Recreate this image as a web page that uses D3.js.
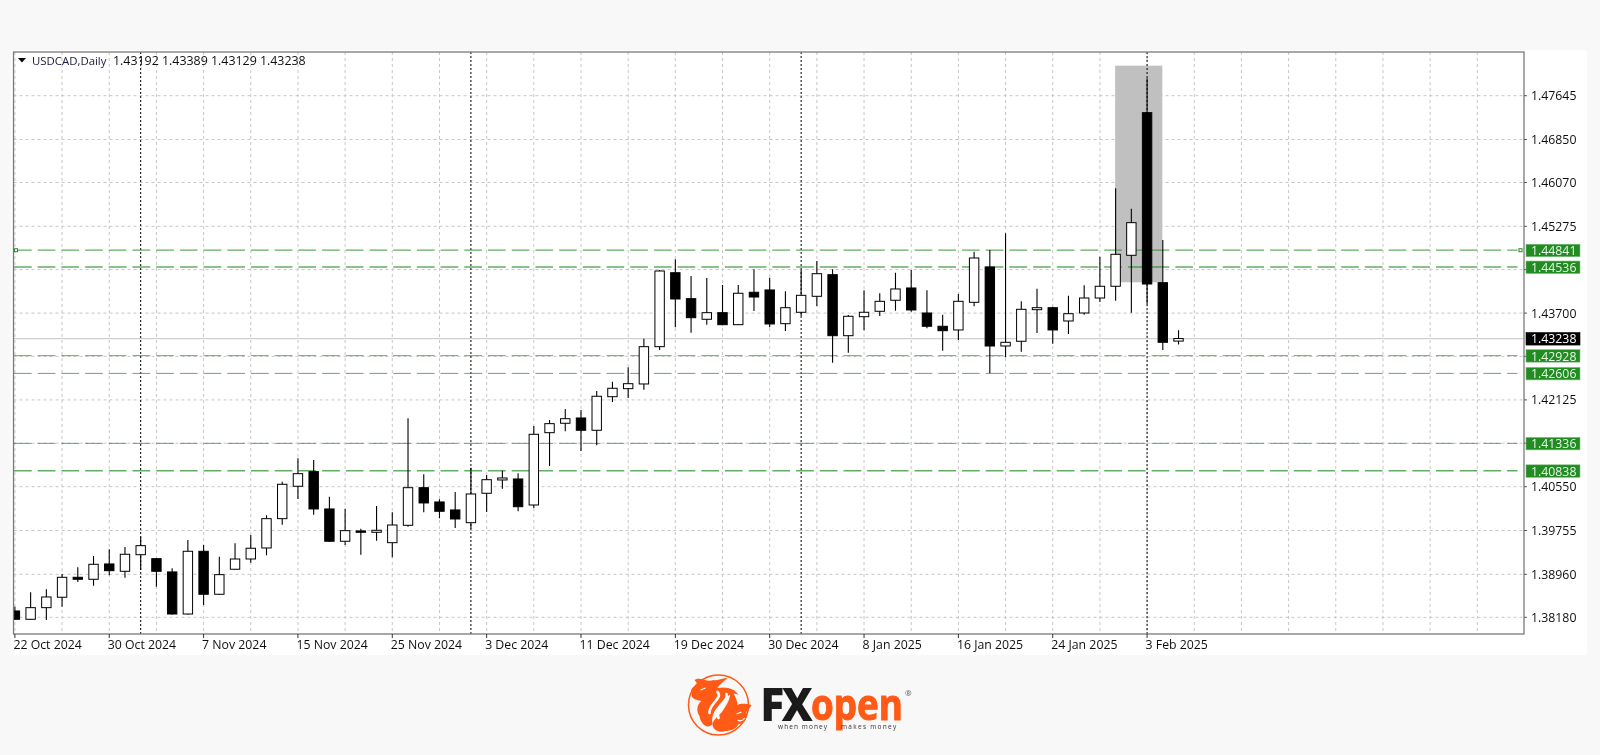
<!DOCTYPE html>
<html>
<head>
<meta charset="utf-8">
<script src="https://cdnjs.cloudflare.com/ajax/libs/d3/7.8.5/d3.min.js"></script>
<style>
html,body{margin:0;padding:0;background:#f8f8f8;overflow:hidden}
svg{display:block}
text{font-family:"Open Sans","Noto Sans",sans-serif;font-size:12.3px;fill:#111}
</style>
</head>
<body>
<svg id="c" width="1600" height="755"></svg>
<script>
const symbolTitle = "USDCAD,Daily";
const quoteText = "1.43192 1.43389 1.43129 1.43238";
const open = [1.38295,1.38144,1.38355,1.38544,1.38906,1.38870,1.39148,1.39015,1.39316,1.39244,1.39003,1.38240,1.39378,1.38598,1.39052,1.39238,1.39438,1.39970,1.40558,1.40823,1.40146,1.39560,1.39747,1.39723,1.39534,1.39850,1.40532,1.40273,1.40128,1.39897,1.40431,1.40672,1.40690,1.40218,1.41530,1.41701,1.41797,1.41574,1.42183,1.42329,1.42414,1.43091,1.44433,1.43962,1.43588,1.43708,1.43490,1.44078,1.44120,1.43508,1.43715,1.44005,1.44397,1.43290,1.43635,1.43733,1.43933,1.44156,1.43702,1.43461,1.43394,1.43896,1.44537,1.43103,1.43189,1.43762,1.43798,1.43557,1.43702,1.43974,1.44187,1.44749,1.47337,1.44252,1.43192];
const high = [1.38373,1.38634,1.38689,1.38966,1.39088,1.39293,1.39414,1.39456,1.39643,1.39251,1.39070,1.39583,1.39493,1.39280,1.39523,1.39674,1.40031,1.40641,1.41066,1.41035,1.40369,1.40146,1.39788,1.40200,1.40086,1.41791,1.40775,1.40322,1.40454,1.40895,1.40763,1.40841,1.40794,1.41652,1.41761,1.41960,1.41942,1.42287,1.42456,1.42717,1.43236,1.44482,1.44677,1.44374,1.44337,1.44210,1.44210,1.44495,1.44343,1.44096,1.44482,1.44646,1.44495,1.43666,1.44114,1.44060,1.44433,1.44482,1.44114,1.43671,1.44047,1.44814,1.44845,1.45148,1.43914,1.44143,1.43816,1.44016,1.44205,1.44724,1.45965,1.45595,1.47961,1.45027,1.43389];
const low = [1.38132,1.38140,1.38132,1.38373,1.38821,1.38754,1.38943,1.38899,1.39039,1.38736,1.38228,1.38228,1.38404,1.38590,1.39045,1.39171,1.39306,1.39861,1.40327,1.40042,1.39547,1.39493,1.39316,1.39571,1.39269,1.39825,1.40086,1.39977,1.39801,1.39788,1.40091,1.40514,1.40104,1.40164,1.40926,1.41556,1.41198,1.41302,1.42087,1.42160,1.42310,1.43031,1.43443,1.43345,1.43490,1.43480,1.43485,1.43738,1.43443,1.43376,1.43648,1.43829,1.42800,1.42982,1.43388,1.43648,1.43744,1.43726,1.43425,1.43018,1.43212,1.43824,1.42608,1.42898,1.43000,1.43339,1.43145,1.43321,1.43671,1.43902,1.43925,1.43708,1.43865,1.43031,1.43129];
const close = [1.38144,1.38355,1.38549,1.38906,1.38870,1.39142,1.39026,1.39324,1.39480,1.39015,1.38240,1.39378,1.38598,1.38954,1.39238,1.39433,1.39970,1.40594,1.40786,1.40146,1.39560,1.39752,1.39723,1.39759,1.39855,1.40532,1.40255,1.40104,1.39964,1.40418,1.40677,1.40708,1.40187,1.41501,1.41694,1.41784,1.41574,1.42191,1.42336,1.42419,1.43091,1.44464,1.43956,1.43617,1.43708,1.43490,1.44060,1.43992,1.43503,1.43798,1.44023,1.44415,1.43290,1.43642,1.43715,1.43914,1.44138,1.43757,1.43461,1.43381,1.43914,1.44700,1.43103,1.43170,1.43769,1.43798,1.43394,1.43689,1.43974,1.44187,1.44767,1.45341,1.44228,1.43170,1.43238];

const gridPrices = [1.47645,1.46850,1.46070,1.45275,1.44490,1.43700,1.42915,1.42125,1.41340,1.40550,1.39755,1.38960,1.38180];
const tickLabels = ["1.47645","1.46850","1.46070","1.45275",null,"1.43700",null,"1.42125",null,"1.40550","1.39755","1.38960","1.38180"];
const levels = [1.44841,1.44536,1.42928,1.42606,1.41336,1.40838];
const levelWeights = [1.3,1.4,1.0,1.0,1.0,1.5];
const lastPrice = 1.43238;
const dateLabels = ["22 Oct 2024","30 Oct 2024","7 Nov 2024","15 Nov 2024","25 Nov 2024","3 Dec 2024","11 Dec 2024","19 Dec 2024","30 Dec 2024","8 Jan 2025","16 Jan 2025","24 Jan 2025","3 Feb 2025"];
const labelBarStep = [6];
const monthBars = [8,29,50,72];
const highlightBars = [70,73];
const highlightPrices = [1.4819,1.44259];

const L=13.5,R=1524,T=52,B=634;
const svg=d3.select("#c");
const y=d3.scaleLinear().domain([1.47645,1.38180]).range([95.7,617.3]);
const x=d3.scaleLinear().domain([0,93]).range([14.9,1477.3]);
const bars=d3.range(open.length);
const gridBars=d3.range(0,96,3);

svg.append("rect").attr("x",11).attr("y",50).attr("width",1576).attr("height",605).attr("rx",3).attr("fill","#fff");

const defs=svg.append("defs");
defs.append("clipPath").attr("id","plot").append("rect").attr("x",L).attr("y",T).attr("width",R-L).attr("height",B-T);
defs.append("filter").attr("id","soft").append("feGaussianBlur").attr("stdDeviation",0.35);

const soft=svg.append("g").attr("filter","url(#soft)");
const plot=soft.append("g").attr("clip-path","url(#plot)");

// grid
plot.selectAll(".gh").data(gridPrices).join("line")
  .attr("x1",L).attr("x2",R).attr("y1",d=>y(d)).attr("y2",d=>y(d))
  .attr("stroke","#c6c6c6").attr("stroke-dasharray","3,3");
plot.selectAll(".gv").data(gridBars).join("line")
  .attr("x1",d=>x(d)).attr("x2",d=>x(d)).attr("y1",T).attr("y2",B)
  .attr("stroke","#c6c6c6").attr("stroke-dasharray","3,3");

// highlight rectangle
plot.append("rect")
  .attr("x",x(highlightBars[0])-0.5).attr("width",x(highlightBars[1])-x(highlightBars[0]))
  .attr("y",y(highlightPrices[0])).attr("height",y(highlightPrices[1])-y(highlightPrices[0]))
  .attr("fill","#c0c0c0");

// month separators
plot.selectAll(".ms").data(monthBars).join("line")
  .attr("x1",d=>x(d)).attr("x2",d=>x(d)).attr("y1",T).attr("y2",B)
  .attr("stroke","#000").attr("stroke-dasharray","2,2");

// last price line
plot.append("line").attr("x1",L).attr("x2",R).attr("y1",y(lastPrice)).attr("y2",y(lastPrice))
  .attr("stroke","#cfcfcf").attr("stroke-width",1.2);

// horizontal levels
plot.selectAll(".lv").data(levels).join("line")
  .attr("x1",L+0.5).attr("x2",1517.5).attr("y1",d=>y(d)).attr("y2",d=>y(d))
  .attr("stroke","#228b22").attr("stroke-opacity",0.7)
  .attr("stroke-width",(d,i)=>levelWeights[i])
  .attr("stroke-dasharray","17.7,6");
[16,1520.5].forEach(px=>{
  plot.append("rect").attr("x",px-1.5).attr("y",y(levels[0])-1.5).attr("width",3).attr("height",3)
    .attr("fill","#fff").attr("stroke","#228b22").attr("stroke-width",1);
});

// candles
const candle=plot.selectAll(".candle").data(bars).join("g");
candle.append("line")
  .attr("x1",i=>x(i)).attr("x2",i=>x(i)).attr("y1",i=>y(high[i])).attr("y2",i=>y(low[i]))
  .attr("stroke","#000").attr("stroke-width",1.1);
candle.append("rect")
  .attr("x",i=>x(i)-4.7).attr("width",9.4)
  .attr("y",i=>y(Math.max(open[i],close[i])))
  .attr("height",i=>Math.max(1,Math.abs(y(open[i])-y(close[i]))))
  .attr("fill",i=>close[i]>=open[i]?"#fff":"#000")
  .attr("stroke","#000").attr("stroke-width",1);

// frame
soft.append("rect").attr("x",L).attr("y",T).attr("width",R-L).attr("height",B-T)
  .attr("fill","none").attr("stroke","#7a7a7a").attr("stroke-width",1.3);

// right ticks and labels
const ya=soft.append("g");
ya.selectAll("line").data(gridPrices).join("line")
  .attr("x1",R).attr("x2",R+3).attr("y1",d=>y(d)).attr("y2",d=>y(d)).attr("stroke","#555");
ya.selectAll("text").data(gridPrices).join("text")
  .attr("x",1531).attr("y",d=>y(d)).attr("dy","0.36em")
  .text((d,i)=>tickLabels[i]||"");

const tag=(p,bg,border,fg)=>{
  const g=soft.append("g");
  g.append("rect").attr("x",1526).attr("y",y(p)-6).attr("width",54).attr("height",12.5)
    .attr("fill",bg).attr("stroke",border).attr("stroke-width",0.6);
  g.append("text").attr("x",1531).attr("y",y(p)+0.5).attr("dy","0.36em").style("fill",fg).text(p.toFixed(5));
};
levels.forEach(p=>tag(p,"#228b22","#7fbf7f","#e9f6e9"));
tag(lastPrice,"#000","#000","#fff");

// bottom ticks and date labels
const xa=soft.append("g");
dateLabels.forEach((s,k)=>{
  const px=x(k*labelBarStep[0]);
  xa.append("line").attr("x1",px).attr("x2",px).attr("y1",B).attr("y2",B+4).attr("stroke","#333");
  xa.append("text").attr("x",px-1.5).attr("y",644.5).attr("dy","0.36em").text(s);
});

// header
soft.append("path").attr("d","M18,58 h8 l-4,4.5 z").attr("fill","#000");
soft.append("text").attr("x",32).attr("y",60.5).attr("dy","0.36em").style("fill","#1a1a3a").style("font-size","11.4px").text(symbolTitle);
soft.append("text").attr("x",113).attr("y",60.5).attr("dy","0.36em").style("font-size","12.4px").text(quoteText);

// logo
const logo=svg.append("g").attr("filter","url(#soft)");
const orange="#ff5a14";
const mark=logo.append("g").attr("transform","translate(0.5,2)");
mark.append("circle").attr("cx",718).attr("cy",703).attr("r",30).attr("fill","none").attr("stroke",orange).attr("stroke-width",1.5);
mark.append("path").attr("fill",orange)
  .attr("d","M694,678 C700,674 706,681 713,678 C718,679 722,676 727,676 C722,681 719,682 717,686 C726,684 735,687 738,693 C733,690 727,693 722,699 C716,706 710,712 712,722 C707,728 700,722 699,714 C695,708 697,702 701,699 C696,698 690,697 691,691 C689,686 695,684 697,682 Z");
mark.append("path").attr("fill",orange)
  .attr("d","M729,686 C734,692 737,698 737,703 C741,701 747,702 751,703 C750,706 747,708 746,710 C747,716 744,722 738,722 C736,727 730,729 725,729 C717,732 711,726 712,721 C716,714 721,712 724,706 C728,700 731,694 729,686 Z");
mark.append("path").attr("fill","none").attr("stroke","#fff").attr("stroke-width",2.6).attr("stroke-linecap","round")
  .attr("d","M717,690 C723,696 708,702 709,711 M726,692 C729,700 714,706 718,716");
mark.append("path").attr("fill","none").attr("stroke","#fff").attr("stroke-width",1.2)
  .attr("d","M700,688 l5,-2 M736,712 l5,-2 M737,718 c3,2 6,0 7,-2");

const big=logo.append("g").style("font-family","'Liberation Sans',sans-serif").style("font-weight","700");
big.append("text").attr("x",761).attr("y",720).style("font-size","43px").style("fill","#1a1a1a").attr("textLength",50).attr("lengthAdjust","spacingAndGlyphs").attr("stroke","#1a1a1a").attr("stroke-width",2).text("FX");
big.append("text").attr("x",811).attr("y",719.5).style("font-size","43px").style("fill",orange).attr("textLength",92).attr("lengthAdjust","spacingAndGlyphs").attr("stroke",orange).attr("stroke-width",1).text("open");
logo.append("text").attr("x",778).attr("y",728.5).style("font-size","6.5px").style("fill","#333").style("letter-spacing","1.1px").text("when money");
logo.append("text").attr("x",841).attr("y",728.5).style("font-size","6.5px").style("fill","#333").style("letter-spacing","1.3px").text("makes money");
logo.append("text").attr("x",905).attr("y",696).style("font-size","8px").style("fill","#555").text("®");
</script>
</body>
</html>
